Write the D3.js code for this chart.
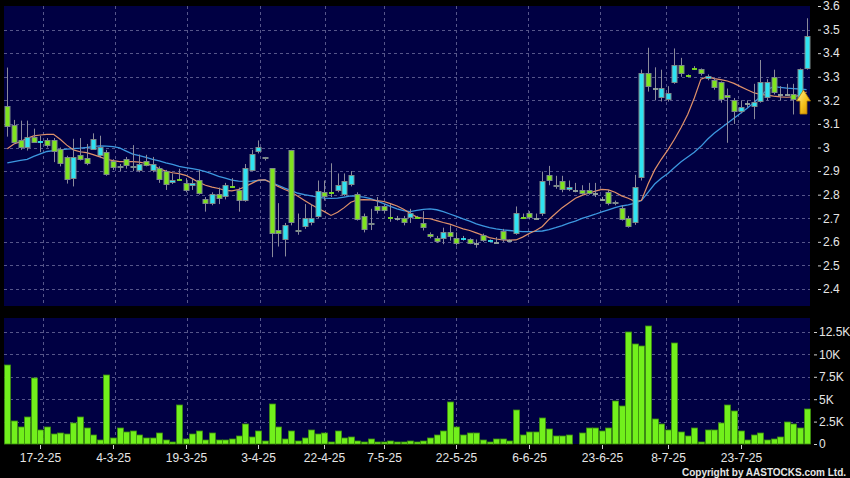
<!DOCTYPE html>
<html><head><meta charset="utf-8">
<script src="https://cdn.jsdelivr.net/npm/d3@7"></script>
<style>body{margin:0;background:#000;}svg{display:block;}</style>
</head><body>
<svg id="chart" width="850" height="478"></svg>
<script>
// ---- DATA ----
const openP  = [3.177,3.096,3.03,3.0,3.046,3.022,3.03,3.03,2.994,2.959,2.868,2.967,2.956,2.99,2.962,2.979,2.943,2.915,2.95,2.915,2.9,2.942,2.9,2.912,2.9,2.849,2.868,2.849,2.835,2.861,2.782,2.761,2.802,2.79,2.837,2.82,2.774,2.902,2.981,2.95,2.912,2.651,2.606,2.99,2.641,2.662,2.679,2.707,2.811,2.81,2.817,2.80,2.842,2.802,2.71,2.671,2.753,2.753,2.707,2.70,2.70,2.70,2.705,2.679,2.634,2.618,2.611,2.641,2.618,2.614,2.611,2.594,2.629,2.605,2.60,2.647,2.606,2.634,2.707,2.721,2.70,2.719,2.884,2.832,2.86,2.82,2.82,2.82,2.82,2.806,2.78,2.813,2.76,2.743,2.70,2.679,2.87,3.318,3.251,3.209,3.20,3.275,3.35,3.307,3.338,3.332,3.29,3.288,3.277,3.223,3.2,3.15,3.19,3.171,3.192,3.209,3.30,3.226,3.226,3.227,3.202,3.332];
const highP  = [3.339,3.117,3.114,3.114,3.08,3.05,3.04,3.04,3.0,2.965,3.037,3.04,3.015,3.06,3.05,2.99,2.95,2.93,2.96,3.01,2.97,2.969,2.96,2.92,2.905,2.89,2.91,2.87,2.87,2.905,2.79,2.81,2.83,2.85,2.87,2.83,2.93,2.99,3.03,2.96,2.912,2.764,2.68,2.99,2.72,2.76,2.76,2.86,2.86,2.933,2.89,2.89,2.9,2.81,2.72,2.74,2.79,2.76,2.76,2.71,2.71,2.74,2.71,2.73,2.64,2.625,2.66,2.67,2.64,2.625,2.615,2.61,2.635,2.61,2.62,2.655,2.61,2.75,2.72,2.73,2.72,2.898,2.922,2.88,2.88,2.86,2.85,2.84,2.85,2.85,2.79,2.82,2.775,2.755,2.71,2.884,3.33,3.423,3.34,3.33,3.26,3.42,3.38,3.31,3.345,3.335,3.31,3.295,3.28,3.25,3.21,3.2,3.2,3.27,3.371,3.29,3.33,3.26,3.27,3.27,3.335,3.548];
const lowP   = [3.046,3.015,2.99,2.987,3.02,2.98,3.0,2.938,2.92,2.847,2.835,2.945,2.925,2.99,2.955,2.88,2.905,2.9,2.91,2.9,2.895,2.92,2.895,2.85,2.82,2.845,2.86,2.81,2.82,2.80,2.728,2.755,2.76,2.78,2.83,2.728,2.77,2.9,2.975,2.945,2.535,2.58,2.538,2.67,2.63,2.655,2.67,2.70,2.775,2.79,2.81,2.795,2.835,2.69,2.64,2.65,2.72,2.72,2.685,2.69,2.67,2.68,2.70,2.648,2.615,2.595,2.59,2.605,2.585,2.605,2.59,2.575,2.60,2.60,2.595,2.60,2.60,2.63,2.70,2.695,2.695,2.71,2.84,2.825,2.81,2.815,2.81,2.80,2.80,2.79,2.775,2.755,2.755,2.69,2.66,2.672,2.86,3.237,3.20,3.195,3.195,3.27,3.30,3.30,3.33,3.305,3.285,3.245,3.19,3.02,3.1,3.145,3.17,3.12,3.19,3.2,3.225,3.2,3.22,3.14,3.2,3.33];
const closeP = [3.089,3.02,3.0,3.046,3.021,3.028,3.007,2.979,2.928,2.861,2.959,2.948,2.928,3.036,3.004,2.884,2.914,2.92,2.923,2.92,2.93,2.923,2.929,2.863,2.84,2.863,2.863,2.817,2.849,2.803,2.761,2.802,2.782,2.839,2.832,2.774,2.912,2.973,3.004,2.959,2.634,2.633,2.672,2.68,2.651,2.70,2.70,2.817,2.79,2.806,2.839,2.86,2.884,2.693,2.65,2.679,2.73,2.73,2.70,2.70,2.679,2.724,2.703,2.658,2.62,2.601,2.641,2.62,2.59,2.618,2.592,2.594,2.604,2.608,2.60,2.608,2.606,2.721,2.705,2.70,2.70,2.86,2.86,2.839,2.82,2.833,2.82,2.803,2.803,2.806,2.78,2.76,2.771,2.693,2.662,2.832,3.318,3.258,3.251,3.251,3.23,3.35,3.311,3.305,3.332,3.311,3.302,3.251,3.202,3.21,3.15,3.171,3.19,3.192,3.279,3.279,3.23,3.226,3.226,3.202,3.332,3.472];
// volume in thousands of shares
const volumeK = [8.85,2.6,1.86,3.05,7.4,1.6,1.93,1.1,1.2,1.1,2.3,3.0,1.8,1.0,0.4,7.7,0.7,1.8,1.3,1.5,1.0,0.7,0.7,1.2,0.5,0.2,4.4,0.55,1.1,1.45,0.4,1.26,0.5,0.5,0.55,0.9,2.27,0.75,1.5,0.33,4.5,1.9,0.55,1.4,0.33,0.63,1.6,1.1,1.2,0.26,1.4,0.67,0.8,0.33,0.26,0.6,0.2,0.2,0.33,0.26,0.26,0.33,0.26,0.37,
  0.63,1.0,1.5,4.65,1.93,1.0,1.2,1.23,0.4,0.2,0.6,0.52,0.33,3.75,1.04,1.3,1.3,2.86,1.7,0.85,0.9,0.97,0.05,1.2,1.78,1.75,1.45,1.78,4.76,4.24,12.45,11.2,10.9,13.2,2.83,2.27,1.52,11.3,1.3,0.93,1.78,0.22,1.6,1.6,2.38,4.4,3.72,1.45,0.45,1.04,1.23,0.4,0.6,0.74,2.5,2.2,1.82,3.9];
const ma10 = [2.995,3.015,3.025,3.039,3.049,3.053,3.056,3.056,3.035,3.01,2.99,2.982,2.978,2.97,2.96,2.95,2.944,2.94,2.94,2.94,2.938,2.932,2.924,2.91,2.9,2.893,2.889,2.882,2.868,2.852,2.84,2.832,2.826,2.818,2.816,2.822,2.834,2.848,2.862,2.863,2.85,2.835,2.822,2.81,2.793,2.775,2.758,2.742,2.728,2.712,2.725,2.745,2.768,2.778,2.779,2.778,2.775,2.771,2.762,2.752,2.738,2.72,2.705,2.7,2.698,2.69,2.682,2.675,2.665,2.655,2.648,2.638,2.628,2.618,2.612,2.608,2.607,2.608,2.62,2.635,2.648,2.665,2.695,2.72,2.745,2.765,2.785,2.797,2.806,2.815,2.822,2.82,2.81,2.795,2.785,2.772,2.775,2.845,2.905,2.95,2.99,3.035,3.085,3.14,3.21,3.29,3.3,3.292,3.288,3.282,3.272,3.258,3.245,3.232,3.225,3.222,3.218,3.215,3.213,3.215,3.222,3.235];
const ma20 = [2.935,2.94,2.945,2.95,2.962,2.973,2.983,2.987,2.99,2.993,2.995,2.997,3.0,3.004,3.007,3.006,3.004,2.998,2.985,2.972,2.966,2.958,2.95,2.943,2.935,2.928,2.92,2.915,2.91,2.905,2.898,2.888,2.878,2.87,2.862,2.857,2.856,2.857,2.86,2.863,2.851,2.84,2.828,2.817,2.806,2.8,2.795,2.79,2.785,2.784,2.785,2.79,2.795,2.793,2.79,2.783,2.773,2.762,2.75,2.74,2.732,2.728,2.733,2.738,2.74,2.736,2.728,2.718,2.708,2.697,2.688,2.676,2.668,2.66,2.655,2.651,2.648,2.645,2.643,2.643,2.644,2.646,2.652,2.66,2.669,2.679,2.688,2.699,2.708,2.717,2.727,2.736,2.745,2.752,2.757,2.764,2.775,2.81,2.845,2.87,2.89,2.915,2.94,2.96,2.98,3.005,3.035,3.06,3.082,3.103,3.124,3.145,3.166,3.19,3.215,3.245,3.258,3.255,3.252,3.25,3.248,3.245];
const tickIndex  = [5,16,27,38,48,57,68,79,90,100,111];
const tickLabels = ["17-2-25","4-3-25","19-3-25","3-4-25","22-4-25","7-5-25","22-5-25","6-6-25","23-6-25","8-7-25","23-7-25"];
const priceTicks = [2.4,2.5,2.6,2.7,2.8,2.9,3.0,3.1,3.2,3.3,3.4,3.5,3.6];
const volTicks   = [0,2.5,5,7.5,10,12.5];
const volTickLabels = ["0","2.5K","5K","7.5K","10K","12.5K"];

// ---- LAYOUT ----
const svg = d3.select("#chart");
const L = 4, R = 810;
const pTop = 6, pBot = 306, vTop = 318, vBot = 444;
const n = closeP.length;
const x = d3.scaleLinear().domain([0, n-1]).range([7.3, 806.6]);
// the source draws its vertical grid on a slightly different scale than the candles
const gx = d3.scaleLinear().domain([0, n-1]).range([10.5, 803.5]);
const y = d3.scaleLinear().domain([2.4, 3.6]).range([289, 6]);
const yv = d3.scaleLinear().domain([0, 12.5]).range([vBot, 332]);
const cx = i => Math.round(x(i));
const FONT = "'Liberation Sans', Arial, sans-serif";
const GRID = "#56568a";

svg.append("rect").attr("width",850).attr("height",478).attr("fill","#000");
svg.append("rect").attr("x",L).attr("y",pTop).attr("width",R-L).attr("height",pBot-pTop).attr("fill","#000043");
svg.append("rect").attr("x",L).attr("y",vTop).attr("width",R-L).attr("height",vBot-vTop).attr("fill","#000043");

// grids
const g = svg.append("g").attr("stroke",GRID).attr("stroke-dasharray","3,3").attr("stroke-width",1);
priceTicks.filter(v => v < 3.55).forEach(v => {
  const yy = Math.round(y(v)) + 0.5;
  g.append("line").attr("x1",L).attr("x2",R).attr("y1",yy).attr("y2",yy);
});
volTicks.filter(v => v > 0).forEach(v => {
  const yy = Math.round(yv(v)) + 0.5;
  g.append("line").attr("x1",L).attr("x2",R).attr("y1",yy).attr("y2",yy);
});
tickIndex.forEach(i => {
  const xx = Math.round(gx(i)) + 0.5;
  g.append("line").attr("x1",xx).attr("x2",xx).attr("y1",pTop).attr("y2",pBot);
  g.append("line").attr("x1",xx).attr("x2",xx).attr("y1",vTop).attr("y2",vBot);
});

// moving averages
const line = d3.line().x((d,i) => x(i)).y(d => y(d));
svg.append("path").datum(ma20).attr("d",line).attr("fill","none")
  .attr("stroke","#3f9fe8").attr("stroke-width",1.3).attr("opacity",0.95);
svg.append("path").datum(ma10).attr("d",line).attr("fill","none")
  .attr("stroke","#e0916a").attr("stroke-width",1.2);

// candles
const UP = "#2fe3f2", DOWN = "#7fe41e";
const cg = svg.append("g");
for (let i = 0; i < n; i++) {
  const xc = cx(i);
  const o = openP[i], c = closeP[i];
  cg.append("line").attr("x1",xc+0.5).attr("x2",xc+0.5)
    .attr("y1",y(highP[i])).attr("y2",y(lowP[i]))
    .attr("stroke","#8a8a9a").attr("stroke-width",1);
  const top = Math.round(y(Math.max(o,c))), bot = Math.round(y(Math.min(o,c)));
  const up = c >= o;
  if (bot - top < 2) {
    cg.append("rect").attr("x",xc-2).attr("y",top).attr("width",5).attr("height",2)
      .attr("fill", c === o ? "#9aa8a0" : (up ? UP : DOWN)).attr("stroke","none").attr("opacity",0.9);
  } else {
    cg.append("rect").attr("x",xc-2).attr("y",top+0.5).attr("width",5).attr("height",bot-top-1)
      .attr("fill", up ? UP : DOWN).attr("stroke","#7d8a8a").attr("stroke-width",1);
  }
}

// arrow annotation at the last candles
const ax = x(120) + 3.5, ay = y(ma20[120]) + 1;
const defs = svg.append("defs");
const grad = defs.append("linearGradient").attr("id","arrowGrad").attr("x1",0).attr("y1",0).attr("x2",1).attr("y2",1);
grad.append("stop").attr("offset","0%").attr("stop-color","#fff1a0");
grad.append("stop").attr("offset","55%").attr("stop-color","#f5c21c");
grad.append("stop").attr("offset","100%").attr("stop-color","#d08a00");
const ap = [[0,0],[7,11],[3.5,11],[3.5,24],[-3.5,24],[-3.5,11],[-7,11]].map(p => [ax+p[0], ay+p[1]]);
svg.append("polygon").attr("points", ap.map(p => p.join(",")).join(" "))
  .attr("fill","url(#arrowGrad)").attr("stroke","#b07800").attr("stroke-width",0.8);

// volume bars
svg.append("g").selectAll("rect").data(volumeK).join("rect")
  .attr("x",(d,i) => cx(i)-2.5).attr("width",6)
  .attr("y",d => Math.round(yv(d))).attr("height",d => Math.max(0, vBot - Math.round(yv(d))))
  .attr("fill","#72f01c").attr("stroke","#3d8f10").attr("stroke-width",0.8);

// right axes
const ta = svg.append("g").attr("font-family",FONT).attr("font-size",12).attr("fill","#e6e6e6");
priceTicks.forEach(v => {
  const yy = y(v);
  ta.append("line").attr("x1",818).attr("x2",821).attr("y1",yy+0.5).attr("y2",yy+0.5).attr("stroke","#d0d0d0");
  ta.append("text").attr("x",823).attr("y",yy).attr("dy","0.36em").text(d3.format("~g")(v));
});
volTicks.forEach((v,k) => {
  const yy = yv(v);
  ta.append("line").attr("x1",814).attr("x2",817).attr("y1",yy+0.5).attr("y2",yy+0.5).attr("stroke","#d0d0d0");
  ta.append("text").attr("x",819).attr("y",yy).attr("dy","0.36em").text(volTickLabels[k]);
});

// x axis
tickIndex.forEach((i,k) => {
  const xx = cx(i) + 0.5;
  ta.append("line").attr("x1",xx).attr("x2",xx).attr("y1",vBot+1).attr("y2",vBot+5).attr("stroke","#d0d0d0");
  ta.append("text").attr("x",xx).attr("y",462).attr("text-anchor","middle").text(tickLabels[k]);
});

svg.append("text").attr("x",682).attr("y",476)
  .attr("font-family",FONT).attr("font-size",10).attr("font-weight","bold")
  .attr("textLength",164).attr("lengthAdjust","spacing")
  .attr("fill","#e6e6e6").text("Copyright by AASTOCKS.com Ltd.");
</script>
</body></html>
